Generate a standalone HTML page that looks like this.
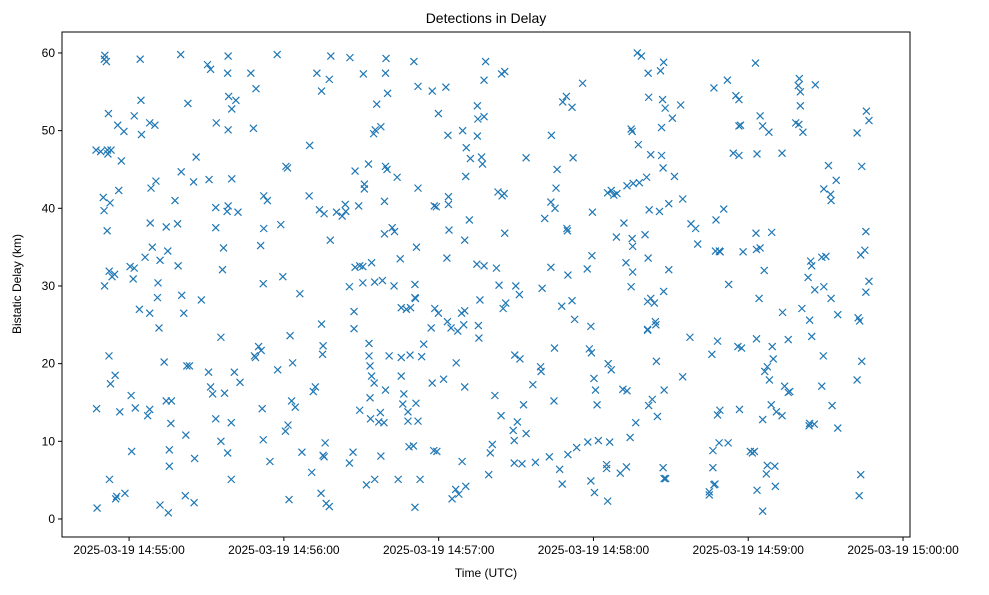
<!DOCTYPE html>
<html><head><meta charset="utf-8"><style>
body{margin:0;background:#fff;}
svg text{font-family:"Liberation Sans","DejaVu Sans",sans-serif;fill:#000;}
</style></head><body>
<svg id="chart" width="989" height="590" xmlns="http://www.w3.org/2000/svg">
<rect width="989" height="590" fill="#fff"/>
<text x="486" y="23" font-size="14" text-anchor="middle">Detections in Delay</text>
<text x="486" y="577" font-size="12" text-anchor="middle">Time (UTC)</text>
<text x="21" y="284" font-size="12" text-anchor="middle" transform="rotate(-90 21 284)">Bistatic Delay (km)</text>
<g id="marks"></g>
<g id="axes"></g>
</svg>
<script>
// times in seconds after 14:54:00 UTC, delay in km
const xTickSeconds = [60,120,180,240,300,360];
const xTickLabels = ["2025-03-19 14:55:00","2025-03-19 14:56:00","2025-03-19 14:57:00","2025-03-19 14:58:00","2025-03-19 14:59:00","2025-03-19 15:00:00"];
const yTicks = [0,10,20,30,40,50,60];
const detections = [
[47.2,47.5],[47.4,14.2],[47.6,1.4],
[49,47.3],[50.4,59.2],[50.6,59.7],[51.2,58.9],[50,41.4],[50.3,39.7],[50.5,30],[51.6,47.5],[51.8,47],[51.5,37.1],[52,52.2],[52.6,40.7],[52.3,31.9],[53.4,31.2],[52.2,21],[52.8,17.4],[52.4,5.1],[53,47.5],
[55.6,50.7],[56,42.3],[54.6,18.5],[54.8,2.6],[55.2,2.9],[54.4,31.5],[57,46.1],[56.4,13.8],[58,49.9],[58.4,3.3],
[60.4,32.5],[62,32.3],[60.8,15.9],[61,8.7],[62.4,14.3],[62,51.9],[61.6,30.9],
[64.3,59.2],[64.6,53.9],[64.8,49.5],[64,27],[66.2,33.7],
[67.2,13.3],[68,14.1],[68,51],[68.5,42.6],[68.2,38.1],[68,26.5],[69,35],[70,50.7],[70.4,43.5],
[71.2,30.4],[71,28.5],[71.6,24.6],[72,33.3],[72,1.8],[73.6,20.2],
[74.4,37.6],[75,34.5],[74.4,15.2],[75.2,0.8],[75.6,6.8],[75.6,8.9],[76.2,12.3],[76.4,15.2],
[77.8,41],[78.8,38],[79,32.6],[80,59.8],[80.2,44.7],[80.4,28.8],[81.2,26.5],
[82,10.8],[82.4,19.7],[81.8,3],[82.8,53.5],[83.4,19.7],[85,43.4],[86,46.6],[85.4,7.8],[85.2,2.1],
[88,28.2],[91,43.7],[90.8,18.9],[90.4,58.5],[91.6,57.9],[91.6,17],[92.4,16.1],
[93.6,40.1],[93.6,37.5],[93.8,51],[93.6,12.9],[95.6,10],[95.6,23.4],[96.6,34.9],[96.2,32.1],[97,16.2],
[98.4,59.6],[98.2,57.4],[98.6,54.4],[98.4,50.1],[98.4,40.3],[98,39.6],[99.8,43.8],[101.4,53.9],[99.8,52.8],[99.6,12.4],[98.2,8.5],[99.6,5.1],[100.8,18.9],[103,17.6],[102.2,39.5],
[107.2,57.4],[109.2,55.4],[108.2,50.3],[111,35.2],[112,30.3],[108.6,21],[109,20.8],[110.2,22.2],[111.6,14.2],[112,10.2],[111.2,21.7],[112.2,41.6],[113.6,41],[112.2,37.4],
[117.4,59.8],[114.6,7.4],[117.6,19.2],[119.6,31.2],[118.8,37.9],[120.8,45.4],[121.4,45.2],[120.6,11.3],[121.6,12.1],[122.4,23.6],[122,2.5],[123,15.2],[123.4,20.1],[124.4,14.4],[126.2,29],
[127,8.6],[130,48.1],[129.8,41.6],[131.4,16.4],[132.2,17],[130.8,6],[132.8,57.4],[133.8,39.8],[134.6,55.1],[135.6,39.3],[134.6,25.1],[135.2,22.3],[135,21.2],[134.4,3.3],[135.6,8],[135.2,8.2],[136,9.8],
[138.2,59.6],[137.6,56.6],[138,35.9],[136.4,2],[137.6,1.6],[140.4,39.5],[143.8,40.5],[144,39.6],
[145.6,59.4],[142.6,39],[145.4,29.9],[145.4,7.2],[149,40.3],[147.6,44.8],[147.2,26.7],[147.2,24.5],[147.6,32.4],[146.8,8.6],[149.4,14],
[150.8,57.3],[151.2,43.1],[151.2,42.5],[150.6,30.4],[149.4,32.6],[150.6,32.5],[153,22.6],[153,21],[153.4,19.7],[155,17.5],[154,18.4],[153.4,15.6],[153.6,12.9],[152,4.4],[152.8,45.7],[154,33],[155.2,30.5],
[156,53.4],[155.4,50.1],[154.8,49.6],[157.6,50.5],[159,40.9],[159,36.7],[162,37.5],[159.4,45.4],[160,45],[158.2,30.7],[157.4,13.7],[156.8,12.5],[158.8,12.4],[157.6,8.1],[155.2,5.1],[159.4,16.6],[159.6,59.3],[159.4,57.4],[160.2,54.8],[160.8,21],
[163.9,44],[162.9,37],[165.1,33.5],[162.7,30],[165.5,27.2],[167.5,27],[165.5,20.8],[165.5,18.4],[166.5,16.1],[166.1,14.8],[168.1,13.8],[168.1,12.6],[164.3,5.1],[169.1,27.2],[168.5,9.3],[168.9,21.1],
[172,55.7],[170.4,58.9],[170.8,30.2],[170.8,28.5],[171,28.4],[171.2,14.9],[172,12.6],[170.2,9.4],[172.8,5.1],[170.8,1.5],[173.4,20.9],[171.4,35],[172,42.6],[174.2,22.5],
[177.5,55.1],[178.3,40.3],[179.1,40.2],[179.9,52.2],[178.5,27.1],[179.9,26.5],[177.1,24.6],[177.5,17.5],[178.1,8.8],[179.3,8.7],[181.9,18],
[182.8,55.6],[183.6,49.4],[183.8,41.5],[183.8,40.5],[184,37.2],[183.2,33.6],[183.4,25.4],[184.8,24.6],[186.8,20.1],[187.4,24.2],[185.2,2.6],[186.6,3.8],[187.8,3.2],
[189.3,50],[190.7,47.8],[192.3,46.4],[190.5,44.1],[190.1,35.9],[188.9,26.5],[190.1,26.8],[189.7,25],[190.1,17],[189.1,7.4],[190.5,4.2],[191.9,38.5],
[195,53.2],[195.2,51.5],[197.6,56.5],[195,49.3],[196.6,46.6],[197,45.7],[194.8,32.8],[196,28.2],[195.4,24.9],[195.6,23.3],[197.6,32.6],[197.6,51.8],[198.2,58.9],
[201.8,15.9],[200.8,9.6],[200,8.5],[199.4,5.7],[202.4,32.3],[203.4,30.1],[203,42.1],[204.6,41.6],[205.4,41.9],[204.4,57.3],[205.6,57.6],[205,27.1],[206,27.8],[204.2,13.3],[205.6,36.8],
[209.5,21.1],[208.9,11.4],[210.5,12.5],[209.3,10.1],[209.3,7.2],[211.5,20.6],[209.9,30],[211.3,28.9],[212.9,14.7],[212.3,7.1],[213.9,46.5],[213.9,11],
[216.5,17.3],[217.5,7.3],[219.5,19.6],[219.7,19],[220.1,29.7],[221.1,38.7],[223.5,40.8],[223.7,49.4],[223.5,32.4],[224.7,15.2],[222.9,8],[224.9,22],[225.1,40],[225.5,42.6],[225.9,45],
[228.1,53.7],[229.5,54.4],[229.7,37.4],[229.9,37.1],[230.1,31.4],[227.7,27.4],[226.9,6.4],[227.9,4.5],[230.1,8.3],[231.7,53],[232.1,46.5],[231.7,28.1],[232.7,25.7],[233.5,9.2],
[235.8,56.1],[237.6,32.2],[239,24.8],[238.4,21.9],[239.2,21.4],[237.8,9.9],[239,4.9],[240.4,3.4],[240.2,18.1],[240.8,16.6],[241.4,14.7],[239.4,33.9],[239.6,39.5],
[245.5,42],[246.9,42.3],[247.9,41.7],[245.7,20],[246.9,19.2],[241.9,10.1],[245.1,7],[245.1,6.5],[245.5,2.3],[249.1,41.9],[248.9,36.3],[246.3,9.9],
[253,42.9],[251.8,38.1],[255,36.1],[252.6,33],[251.4,16.7],[253,16.5],[254.2,10.5],[252.8,6.7],[250.4,5.9],[256.4,12.4],[254.6,50.2],[255,49.9],[255.4,43.2],[255.2,35.1],[255.2,31.8],[254.6,29.9],[257,60],[257.4,48.2],[257.8,43.3],
[258.6,59.6],[261.2,57.4],[261.4,54.3],[262.2,46.9],[260.6,44],[261.6,39.8],[260,36.6],[261.2,33.6],[261,28],[262.2,28.4],[263.6,27.8],[264,25.4],[261,24.4],[264.2,25],[261.4,14.6],[262.8,15.4],[261,24.3],[264.4,20.3],[264.8,13.2],
[266.8,54],[267.8,52.9],[266.4,50.4],[266.4,46.8],[267,45.2],[269.2,40.6],[269.2,32.1],[267.2,29.3],[267,6.6],[267.4,5.2],[268,5.2],[266,57.7],[267.2,58.8],[265.6,39.6],[267.4,16.6],[271.4,44.1],
[270.6,51.6],[273.8,53.3],[274.6,41.2],[274.6,18.3],[277.4,23.4],[277.8,38],[279.6,37.4],[280.4,35.4],
[286.7,55.5],[287.5,38.5],[287.3,34.5],[289.1,34.4],[285.9,21.2],[288.1,22.9],[288.1,13.4],[286.3,8.8],[286.3,6.6],[286.7,4.4],[287.1,4.5],[284.9,3.5],[284.9,3.1],[288.7,9.8],[291.9,56.5],[290.5,39.9],
[292.4,30.2],[288.8,34.5],[289,14],[292.2,9.8],[294.2,47.1],[296.4,46.8],[295.2,54.5],[296.4,54],[296.4,50.6],[297,50.7],[296,22.2],[297.4,22],[298,34.4],[303,36.8],[296.6,14.1],
[302.8,58.7],[303.4,47],[303.2,34.7],[304.6,34.9],[303.2,23.2],[300.8,8.7],[301.6,8.5],[302.4,8.7],[303.4,3.7],[305.6,1],[306.4,19],[307.4,19.6],[308.2,17.9],[305.6,12.8],[304.6,51.9],[305.6,50.6],[308,49.8],[304.2,28.4],[306.2,32],[307.4,6.9],[307,5.8],
[309.1,36.9],[309.3,22.2],[309.7,20.6],[308.9,14.7],[310.9,13.8],[310.5,4.2],[310.3,6.8],[313.1,13.3],[313.1,47.1],[313.3,26.6],[314.1,17.1],[315.5,16.3],[316.1,16.4],[315.5,23.1],
[319.8,56.7],[319.4,55.8],[320.2,55],[320.2,53.2],[318.4,51],[321.2,49.8],[319.6,50.8],[323.2,31.1],[320.8,27.1],[324.2,33.2],[324.6,32.6],[323.8,25.6],[324.6,23.5],[323.6,12],[323.8,12.3],[325.6,12.2],[326,55.9],[325.8,29.5],
[329.3,42.5],[331.1,45.5],[331.9,41.8],[332.1,41],[328.5,33.7],[330.1,33.8],[329.3,29.9],[332.1,28.4],[329.1,21],[328.5,17.1],[332.5,14.6],[334.7,11.7],[334.7,26.3],[334.1,43.6],
[342.2,49.7],[343.6,34],[343.2,25.5],[342.2,17.9],[342.6,25.9],[343,3],[343.6,5.7],[344,20.3],[344,45.4],[345.2,34.6],[345.6,37],[346.8,30.6],[345.6,29.2],[345.8,52.5],[346.8,51.3]
];
const L=62,R=910,T=32,B=537;
const xMin=34.0,xMax=362.7,yMin=-2.32,yMax=62.7;
function sx(t){return L+(t-xMin)/(xMax-xMin)*(R-L);}
function sy(v){return B-(v-yMin)/(yMax-yMin)*(B-T);}
const NS="http://www.w3.org/2000/svg";
const marks=document.getElementById('marks');
detections.forEach(function(d){
  const x=sx(d[0]), y=sy(d[1]);
  const p=document.createElementNS(NS,'path');
  p.setAttribute('d','M'+(x-3.5)+' '+(y-3.5)+'L'+(x+3.5)+' '+(y+3.5)+'M'+(x-3.5)+' '+(y+3.5)+'L'+(x+3.5)+' '+(y-3.5));
  p.setAttribute('stroke','#1f77b4');p.setAttribute('stroke-width','1.2');p.setAttribute('fill','none');
  
  
  marks.appendChild(p);
});
const axes=document.getElementById('axes');
const frame=document.createElementNS(NS,'rect');
frame.setAttribute('x',L);frame.setAttribute('y',T);frame.setAttribute('width',R-L);frame.setAttribute('height',B-T);
frame.setAttribute('fill','none');frame.setAttribute('stroke','#000');frame.setAttribute('stroke-width','1');


axes.appendChild(frame);
xTickSeconds.forEach(function(s,i){
  const x=sx(s);
  const ln=document.createElementNS(NS,'line');
  ln.setAttribute('x1',x);ln.setAttribute('x2',x);ln.setAttribute('y1',B);ln.setAttribute('y2',B+4);ln.setAttribute('stroke','#000');
  
  
  axes.appendChild(ln);
  const tx=document.createElementNS(NS,'text');
  tx.setAttribute('x',x);tx.setAttribute('y',B+17);tx.setAttribute('font-size','12');tx.setAttribute('text-anchor','middle');
  tx.textContent=xTickLabels[i];
  
  
  axes.appendChild(tx);
});
yTicks.forEach(function(v){
  const y=sy(v);
  const ln=document.createElementNS(NS,'line');
  ln.setAttribute('x1',L-4);ln.setAttribute('x2',L);ln.setAttribute('y1',y);ln.setAttribute('y2',y);ln.setAttribute('stroke','#000');
  
  
  axes.appendChild(ln);
  const tx=document.createElementNS(NS,'text');
  tx.setAttribute('x',L-7);tx.setAttribute('y',y+4);tx.setAttribute('font-size','12');tx.setAttribute('text-anchor','end');
  tx.textContent=String(v);
  
  
  axes.appendChild(tx);
});
</script>
</body></html>
